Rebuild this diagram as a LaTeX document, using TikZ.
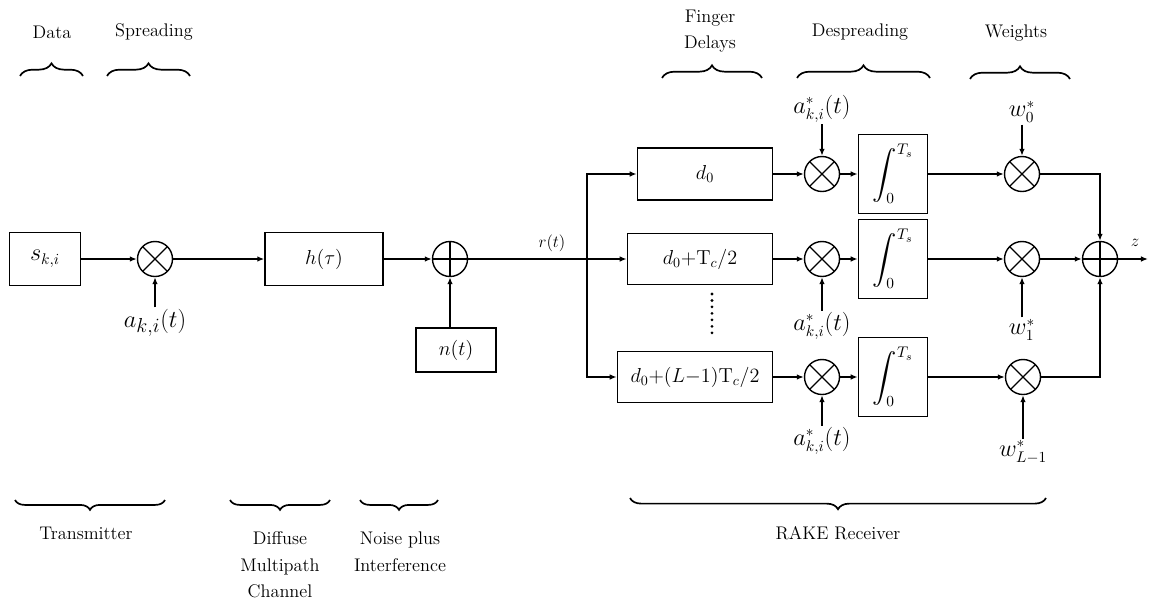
\documentclass[tikz,border=0pt]{standalone}
\usepackage{amsmath}
\usetikzlibrary{arrows.meta, positioning, calc, decorations.pathreplacing}

\tikzset{
  blk/.style={draw, line width=1pt, inner sep=2pt, font=\fontsize{14}{16}\selectfont},
  mult/.style={circle, draw, line width=1pt, minimum size=0.875cm, inner sep=0pt,
    path picture={\draw[line width=0.9pt]
      (path picture bounding box.north west) -- (path picture bounding box.south east)
      (path picture bounding box.north east) -- (path picture bounding box.south west);}},
  adder/.style={circle, draw, line width=1pt, minimum size=0.875cm, inner sep=0pt,
    path picture={\draw[line width=0.9pt]
      (path picture bounding box.north) -- (path picture bounding box.south)
      (path picture bounding box.west) -- (path picture bounding box.east);}},
  sig/.style={line width=1pt, -{Latex[length=5pt, width=4pt]}},
  wire/.style={line width=1pt},
  grp/.style={decorate, decoration={brace, amplitude=#1}, line width=1.2pt},
  grp/.default=8pt,
  lbl/.style={font=\fontsize{13}{19}\selectfont, align=center, inner sep=1pt},
  mlbl/.style={font=\fontsize{16}{18}\selectfont, inner sep=1pt},
}

\begin{document}
\begin{tikzpicture}[x=0.025cm, y=-0.025cm]
  \useasboundingbox (0,0) rectangle (1149,604);

  % group headings on top
  \node[lbl] (hData) at (52,32) {Data};
  \node[lbl] (hSpread) at (154,32) {Spreading};
  \node[lbl] (hFinger) at (710,31) {Finger\\Delays};
  \node[lbl] (hDespread) at (860,32) {Despreading};
  \node[lbl] (hWeights) at (1016,33) {Weights};
  \draw[grp=9pt] (20,76) -- (83,76);
  \draw[grp=9pt] (107,76) -- (190,76);
  \draw[grp=9pt] (662,78) -- (762,78);
  \draw[grp=9pt] (797,78) -- (930,78);
  \draw[grp=9pt] (970,79) -- (1070,79);

  % group headings below
  \draw[grp=7pt] (165,500) -- (15,500);
  \draw[grp=7pt] (330,500) -- (230,500);
  \draw[grp=7pt] (438,500) -- (360,500);
  \draw[grp=8pt] (1046,498) -- (630,498);
  \node[lbl] (hTx) at (86,533) {Transmitter};
  \node[lbl] (hChan) at (280,565) {Diffuse\\Multipath\\Channel};
  \node[lbl] (hNoise) at (400,552) {Noise plus\\Interference};
  \node[lbl] (hRake) at (838,533) {RAKE Receiver};

  % transmitter and channel
  \node[blk, minimum width=1.78cm, minimum height=1.33cm] (data) at (45,259)
    {\fontsize{16}{18}\selectfont $s_{k,i}$};
  \node[mult] (spread) at (155,259) {};
  \node[font=\fontsize{19}{21}\selectfont, inner sep=1pt] (code) at (155,323) {$a_{k,i}(t)$};
  \node[blk, minimum width=2.95cm, minimum height=1.33cm] (chan) at (324,259) {$h(\tau)$};
  \node[adder] (addn) at (450,259) {};
  \node[blk, minimum width=2.0cm, minimum height=1.1cm]
    (noise) at (456,350) {$n(t)$};
  \coordinate (split) at (587,259);
  \node[lbl] (rt) at (552,243) {$r(t)$};

  % RAKE fingers
  \node[blk, minimum width=3.38cm, minimum height=1.3cm] (dly0) at (705,174) {$d_0$};
  \node[blk, minimum width=3.63cm, minimum height=1.28cm] (dly1) at (700,259)
    {$d_0{+}\mathrm{T}_c/2$};
  \node[blk, minimum width=3.88cm, minimum height=1.28cm] (dlyL) at (695,377)
    {$d_0{+}(L{-}1)\mathrm{T}_c/2$};
  \coordinate (dotA) at (712,294);
  \coordinate (dotB) at (712,337);

  \foreach \i/\y in {0/174, 1/259, L/377} {
    \node[mult] (desp\i) at (822,\y) {};
    \node[blk, minimum width=1.73cm, minimum height=1.98cm] (intg\i) at (893,\y)
      {\fontsize{16}{18}\selectfont $\displaystyle\int_0^{T_s}$};
  }
  \node[mult] (wm0) at (1022,174) {};
  \node[mult] (wm1) at (1022,259) {};
  \node[mult] (wmL) at (1023,377) {};
  \node[adder] (comb) at (1100,259) {};
  \coordinate (out) at (1148,259);
  \node[lbl] (zl) at (1135,243) {$z$};

  % conjugate codes and weights
  \node[mlbl] (cc0) at (822,109) {$a^{*}_{k,i}(t)$};
  \node[mlbl] (cc1) at (822,326) {$a^{*}_{k,i}(t)$};
  \node[mlbl] (ccL) at (822,441) {$a^{*}_{k,i}(t)$};
  \node[mlbl] (w0) at (1022,112) {$w^{*}_{0}$};
  \node[mlbl] (w1) at (1022,330) {$w^{*}_{1}$};
  \node[mlbl] (wL) at (1023,452) {$w^{*}_{L-1}$};

  % signal path
  \draw[sig] (data) -- (spread);
  \draw[sig] (code) -- (spread);
  \draw[sig] (spread) -- (chan);
  \draw[sig] (chan) -- (addn);
  \draw[sig] (noise.north -| addn) -- (addn);
  \draw[wire] (addn) -- (split);
  \draw[sig] (split) -- (dly1);
  \draw[sig] (split) |- (dly0);
  \draw[sig] (split) |- (dlyL);
  \draw[line width=2.2pt, dash pattern=on 0pt off 4.6pt, line cap=round] (dotA) -- (dotB);

  \draw[sig] (dly0) -- (desp0);
  \draw[sig] (dly1) -- (desp1);
  \draw[sig] (dlyL) -- (despL);
  \draw[sig] (cc0) -- (desp0);
  \draw[sig] (cc1) -- (desp1);
  \draw[sig] (ccL) -- (despL);
  \foreach \i in {0, 1, L} {
    \draw[sig] (desp\i) -- (intg\i);
    \draw[sig] (intg\i) -- (wm\i);
  }
  \draw[sig] (w0) -- (wm0);
  \draw[sig] (w1) -- (wm1);
  \draw[sig] (wL) -- (wmL);
  \draw[sig] (wm0) -| (comb);
  \draw[sig] (wm1) -- (comb);
  \draw[sig] (wmL) -| (comb);
  \draw[sig] (comb) -- (out);
\end{tikzpicture}
\end{document}
